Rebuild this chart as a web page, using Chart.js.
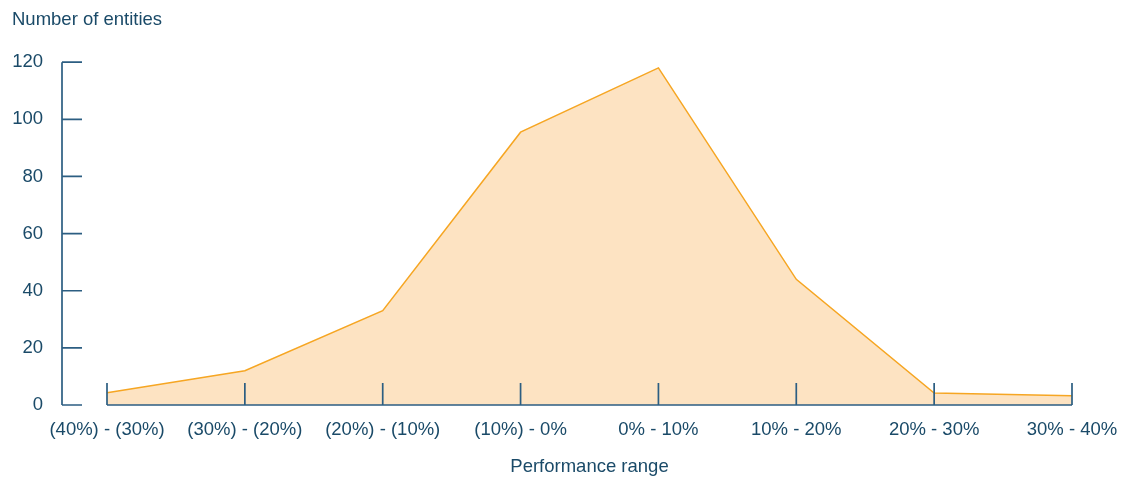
<!DOCTYPE html>
<html>
<head>
<meta charset="utf-8">
<script src="https://cdn.jsdelivr.net/npm/chart.js@4/dist/chart.umd.min.js"></script>
<style>
  html, body { margin: 0; padding: 0; background: #fff; overflow: hidden; }
  #wrap { position: relative; width: 1121px; height: 478px; }
  #chart { display: block; }
</style>
</head>
<body>
<div id="wrap"><canvas id="chart"></canvas></div>
<script>
  const categories = ['(40%) - (30%)', '(30%) - (20%)', '(20%) - (10%)', '(10%) - 0%',
    '0% - 10%', '10% - 20%', '20% - 30%', '30% - 40%'];
  const entityCounts = [4.3, 12, 33, 95.5, 118, 44, 4.2, 3.2];
  const yMin = 0;
  const yMax = 120;
  const yStep = 20;

  const textColor = '#1a4a68';
  const axisColor = '#2c5e82';
  const fontFamily = '"Liberation Sans", Arial, sans-serif';

  // draws the detached y axis and the x axis with upward ticks
  const axisPlugin = {
    id: 'axisLines',
    afterDatasetsDraw(chart) {
      const ctx = chart.ctx;
      const x = chart.scales.x;
      const y = chart.scales.y;
      const yAxisX = chart.chartArea.left - 45;
      const base = y.getPixelForValue(yMin);
      ctx.save();
      ctx.strokeStyle = axisColor;
      ctx.lineWidth = 1.7;
      ctx.beginPath();
      ctx.moveTo(yAxisX, y.getPixelForValue(yMax));
      ctx.lineTo(yAxisX, base);
      y.ticks.forEach(t => {
        const py = y.getPixelForValue(t.value);
        ctx.moveTo(yAxisX, py);
        ctx.lineTo(yAxisX + 20, py);
      });
      ctx.moveTo(x.getPixelForValue(0), base);
      ctx.lineTo(x.getPixelForValue(categories.length - 1), base);
      categories.forEach((c, i) => {
        const px = x.getPixelForValue(i);
        ctx.moveTo(px, base);
        ctx.lineTo(px, base - 22);
      });
      ctx.stroke();
      ctx.restore();
    }
  };

  new Chart(document.getElementById('chart'), {
    type: 'line',
    data: {
      labels: categories,
      datasets: [{
        data: entityCounts,
        borderColor: '#f6a623',
        backgroundColor: '#fde3c2',
        borderWidth: 1.5,
        fill: 'origin',
        tension: 0,
        pointRadius: 0
      }]
    },
    options: {
      responsive: true,
      maintainAspectRatio: false,
      animation: false,
      layout: { autoPadding: false, padding: { left: 12, right: 49, top: 0, bottom: 0 } },
      plugins: {
        legend: { display: false },
        tooltip: { enabled: false },
        title: {
          display: true,
          text: 'Number of entities',
          align: 'start',
          color: textColor,
          font: { family: fontFamily, size: 18.5, weight: 'normal' },
          padding: { top: 9, bottom: 31 }
        }
      },
      scales: {
        x: {
          offset: false,
          grid: { display: false, drawTicks: false },
          border: { display: false },
          ticks: {
            color: textColor,
            padding: 14,
            maxRotation: 0,
            autoSkip: false,
            font: { family: fontFamily, size: 18.5 }
          },
          title: {
            display: true,
            text: 'Performance range',
            color: textColor,
            font: { family: fontFamily, size: 18.5 },
            padding: { top: 16, bottom: 0 }
          },
          afterFit(scale) {
            scale.height = 73;
            scale.paddingLeft = 0;
            scale.paddingRight = 0;
          }
        },
        y: {
          min: yMin,
          max: yMax,
          grid: { display: false, drawTicks: false },
          border: { display: false },
          ticks: {
            stepSize: yStep,
            color: textColor,
            padding: 64,
            font: { family: fontFamily, size: 18.5 }
          },
          afterFit(scale) {
            scale.width = 95;
            scale.paddingTop = 0;
            scale.paddingBottom = 0;
          }
        }
      }
    },
    plugins: [axisPlugin]
  });
</script>
</body>
</html>
